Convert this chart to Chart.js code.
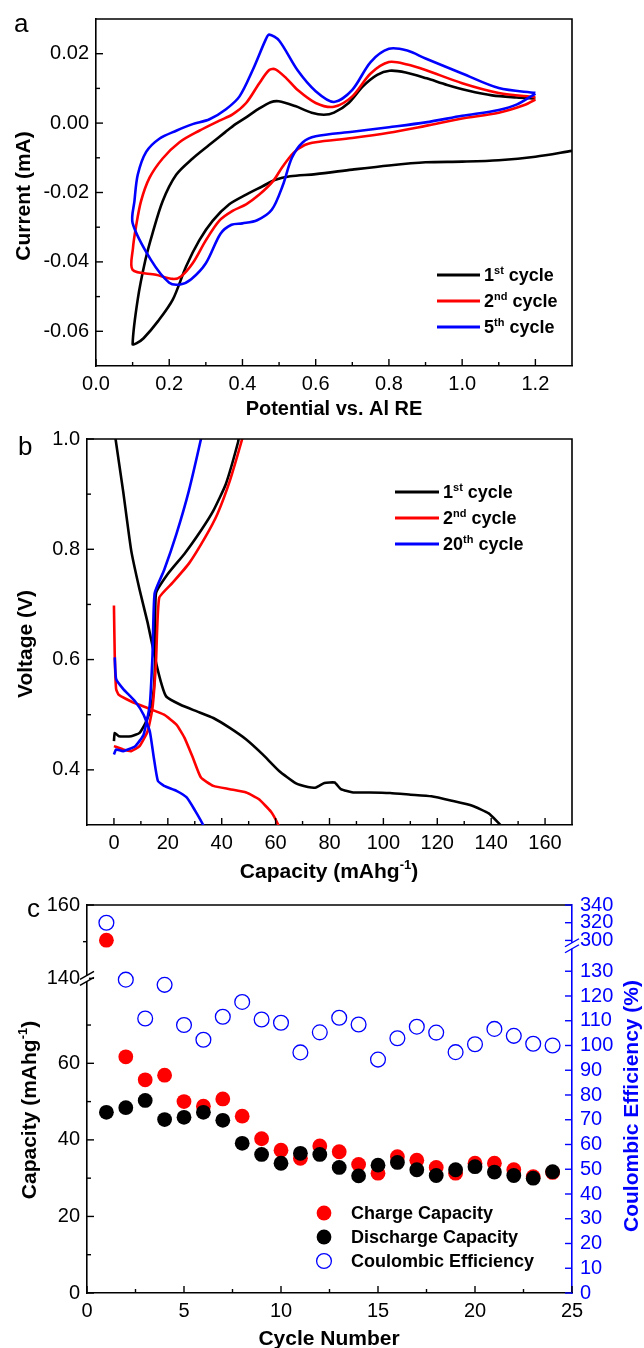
<!DOCTYPE html>
<html>
<head>
<meta charset="utf-8">
<script src="https://cdn.jsdelivr.net/npm/chart.js@4.4.0/dist/chart.umd.min.js"></script>
<style>
  html, body { margin: 0; padding: 0; background: #fff; }
  #wrap { position: relative; width: 644px; height: 1348px; }
  canvas { position: absolute; left: 0; }
</style>
</head>
<body>
<div id="wrap">
  <canvas id="cv" width="644" height="420" style="top:0"></canvas>
  <canvas id="gcd" width="644" height="465" style="top:420px"></canvas>
  <canvas id="cyc" width="644" height="463" style="top:885px"></canvas>
</div>
<script>
const FONT = '"Liberation Sans", Arial, Helvetica, sans-serif';

// --- a: cyclic voltammograms, [potential (V vs Al RE), current (mA)]
const cvCycle1 = [
  [1.30,-0.0080],[1.20,-0.0097],[1.10,-0.0107],[1.00,-0.0111],[0.90,-0.0113],[0.80,-0.0122],
  [0.70,-0.0134],[0.60,-0.0147],[0.53,-0.0153],[0.49,-0.0163],[0.455,-0.0182],[0.41,-0.0206],
  [0.364,-0.0234],[0.319,-0.0281],[0.282,-0.0338],[0.246,-0.0413],[0.21,-0.0508],[0.17,-0.0570],
  [0.13,-0.0620],[0.11,-0.0635],[0.10,-0.0637],
  [0.114,-0.0508],[0.135,-0.0394],[0.154,-0.0319],[0.182,-0.0225],[0.219,-0.0149],[0.264,-0.0102],
  [0.308,-0.0064],[0.353,-0.0026],[0.381,-0.0003],[0.409,0.0016],[0.443,0.0040],[0.477,0.0060],
  [0.499,0.0063],[0.544,0.0049],[0.589,0.0030],[0.622,0.0024],[0.65,0.0030],[0.69,0.0058],
  [0.729,0.0106],[0.768,0.0139],[0.802,0.0151],[0.846,0.0146],[0.903,0.0129],[0.959,0.0110],
  [1.015,0.0094],[1.082,0.0080],[1.149,0.0074],[1.20,0.0071]
];
const cvCycle2 = [
  [1.20,0.0068],[1.17,0.0052],[1.10,0.0030],[1.00,0.0013],[0.90,-0.0008],[0.80,-0.0028],
  [0.70,-0.0043],[0.60,-0.0055],[0.57,-0.0063],[0.54,-0.0085],[0.51,-0.0125],[0.483,-0.0168],
  [0.446,-0.0206],[0.41,-0.0234],[0.373,-0.0253],[0.337,-0.0281],[0.30,-0.0338],[0.264,-0.0404],
  [0.232,-0.0442],[0.21,-0.0449],[0.164,-0.0437],[0.10,-0.0423],
  [0.101,-0.0360],[0.109,-0.0300],[0.123,-0.0225],[0.146,-0.0158],[0.182,-0.0102],[0.228,-0.0055],
  [0.282,-0.0022],[0.337,0.0007],[0.373,0.0025],[0.41,0.0058],[0.446,0.0115],[0.473,0.0153],
  [0.49,0.0155],[0.52,0.0129],[0.55,0.0096],[0.60,0.0058],[0.65,0.0047],[0.70,0.0077],
  [0.75,0.0143],[0.80,0.0176],[0.85,0.0169],[0.90,0.0153],[1.00,0.0115],[1.10,0.0087],[1.20,0.0075]
];
const cvCycle5 = [
  [1.20,0.0085],[1.15,0.0054],[1.10,0.0038],[1.00,0.0021],[0.90,0.0002],[0.80,-0.0012],
  [0.70,-0.0025],[0.60,-0.0038],[0.565,-0.0055],[0.535,-0.0100],[0.51,-0.0180],[0.48,-0.0250],
  [0.44,-0.0280],[0.40,-0.0289],[0.37,-0.0293],[0.34,-0.0319],[0.30,-0.0404],[0.26,-0.0450],
  [0.23,-0.0465],[0.20,-0.0460],[0.15,-0.0394],[0.10,-0.0288],
  [0.105,-0.0225],[0.114,-0.0149],[0.137,-0.0083],[0.173,-0.0045],[0.219,-0.0022],[0.264,-0.0003],
  [0.31,0.0011],[0.355,0.0040],[0.392,0.0077],[0.428,0.0153],[0.464,0.0242],[0.473,0.0255],
  [0.50,0.0238],[0.55,0.0153],[0.60,0.0092],[0.65,0.0061],[0.70,0.0096],[0.75,0.0176],
  [0.80,0.0214],[0.85,0.0209],[0.90,0.0186],[1.00,0.0143],[1.10,0.0101],[1.20,0.0087]
];
const cvNames = ['1^{st} cycle', '2^{nd} cycle', '5^{th} cycle'];
const cvPotTicks = [0, 0.2, 0.4, 0.6, 0.8, 1.0, 1.2];
const cvCurTicks = [-0.06, -0.04, -0.02, 0, 0.02];

// --- b: discharge / charge curves, [capacity (mAh/g), voltage (V)]
const gcdDis1 = [
  [0.3,1.02],[0.6,1.0],[3.4,0.906],[6.4,0.798],[9.5,0.727],[12.5,0.667],[15.6,0.595],[17.8,0.553],
  [19.4,0.533],[24.7,0.518],[30.8,0.506],[36.9,0.494],[43,0.476],[49.1,0.455],[55.2,0.428],
  [61.3,0.398],[67.4,0.376],[72,0.369],[75,0.368],[78.1,0.376],[81.9,0.377],[84.2,0.365],
  [88.8,0.359],[94.9,0.359],[102.5,0.358],[110.1,0.355],[117.8,0.352],[125.4,0.344],[133,0.335],
  [139.1,0.321],[142.9,0.303],[145.5,0.29]
];
const gcdChg1 = [
  [0,0.452],[0.3,0.467],[1.8,0.461],[6.4,0.461],[9.5,0.467],[11.7,0.485],[13.7,0.512],[14.8,0.547],
  [15.3,0.607],[15.6,0.72],[20.1,0.756],[26.2,0.792],[32.3,0.834],[36.9,0.87],[41.5,0.918],
  [46.1,0.995],[46.5,1.01]
];
const gcdDis2 = [
  [0,0.698],[0.3,0.607],[0.8,0.547],[1.8,0.536],[6.4,0.524],[12.5,0.512],[18.6,0.5],[23.2,0.482],
  [26.2,0.458],[29.3,0.422],[32.3,0.386],[36.9,0.371],[43,0.365],[49.1,0.359],[53.7,0.347],
  [58.3,0.324],[61,0.3],[61.5,0.29]
];
const gcdChg2 = [
  [0,0.443],[3.4,0.437],[6.4,0.434],[9.5,0.443],[12.5,0.47],[14.3,0.512],[15.6,0.595],[16.8,0.712],
  [21.7,0.739],[27.8,0.774],[33.9,0.822],[38.4,0.864],[43,0.924],[47.6,1.0],[48,1.01]
];
const gcdDis20 = [
  [0.3,0.604],[0.8,0.565],[3.4,0.547],[7.9,0.524],[11,0.5],[13.3,0.47],[14.8,0.422],[16.3,0.38],
  [18.6,0.371],[23.2,0.362],[27,0.35],[30,0.327],[33.1,0.3],[33.6,0.29]
];
const gcdChg20 = [
  [0,0.428],[0.8,0.437],[3.4,0.434],[7.9,0.443],[11,0.464],[13.3,0.518],[14.3,0.607],[15.1,0.72],
  [18.6,0.762],[23.2,0.828],[27.8,0.906],[32.3,1.0],[32.6,1.01]
];
const gcdNames = ['1^{st} cycle', '2^{nd} cycle', '20^{th} cycle'];
const gcdCapTicks = [0, 20, 40, 60, 80, 100, 120, 140, 160];
const gcdVoltTicks = [0.4, 0.6, 0.8, 1.0];

// --- c: cycling performance
const cycleNo = [1, 2, 3, 4, 5, 6, 7, 8, 9, 10, 11, 12, 13, 14, 15, 16, 17, 18, 19, 20, 21, 22, 23, 24];
const chargeCap = [150.4, 61.7, 55.7, 56.9, 50.0, 48.8, 50.7, 46.2, 40.3, 37.3, 35.2, 38.4,
                   36.9, 33.6, 31.3, 35.6, 34.7, 32.8, 31.3, 33.9, 33.9, 32.2, 30.4, 31.5];
const dischargeCap = [47.2, 48.4, 50.3, 45.3, 45.9, 47.2, 45.1, 39.1, 36.2, 33.9, 36.5, 36.2,
                      32.8, 30.6, 33.4, 34.1, 32.2, 30.7, 32.2, 33.0, 31.6, 30.7, 30.0, 31.7];
const coulombicEff = [320, 126.6, 110.9, 124.5, 108.3, 102.3, 111.6, 117.6, 110.5, 109.2, 97.2, 105.3,
                      111.2, 108.5, 94.3, 102.9, 107.6, 105.2, 97.3, 100.5, 106.7, 103.9, 100.7, 100.0];
const cycNames = ['Charge Capacity', 'Discharge Capacity', 'Coulombic Efficiency'];
const cycleTicks = [0, 5, 10, 15, 20, 25];
const cycCapTicks = [0, 20, 40, 60, 140, 160];
const cycCeTicks = [0, 10, 20, 30, 40, 50, 60, 70, 80, 90, 100, 110, 120, 130, 300, 320, 340];

const lineColors = ['#000000', '#ff0000', '#0000ff'];

// linear scale with one axis break: [min, low] on the lower part, [high, max] above it
class BrokenScale extends Chart.LinearScale {
  brk() {
    const b = this.options.brk;
    return { low: b.low, high: b.high, split: b.split };
  }
  getPixelForValue(value) {
    if (value === null || isNaN(value)) return NaN;
    const { low, high, split } = this.brk();
    const dec = value <= low
      ? (value - this.min) / (low - this.min) * split
      : split + (value - high) / (this.max - high) * (1 - split);
    return this.getPixelForDecimal(dec);
  }
  getValueForPixel(pixel) {
    const { low, high, split } = this.brk();
    const dec = this.getDecimalForPixel(pixel);
    return dec <= split
      ? this.min + dec / split * (low - this.min)
      : high + (dec - split) / (1 - split) * (this.max - high);
  }
}
BrokenScale.id = 'broken';
BrokenScale.defaults = Chart.LinearScale.defaults;
Chart.register(BrokenScale);

const pts = arr => arr.map(([x, y]) => ({ x, y }));
const withGap = (a, b) => [...pts(a), { x: b[0][0], y: null }, ...pts(b)];

// text with ^{...} superscripts
function rich(ctx, text, x, y, size, align, color) {
  const segs = text.split(/\^\{([^}]*)\}/);
  const big = 'bold ' + size + 'px ' + FONT;
  const small = 'bold ' + Math.round(size * 0.6) + 'px ' + FONT;
  let w = 0;
  segs.forEach((s, i) => { ctx.font = i % 2 ? small : big; w += ctx.measureText(s).width; });
  let cx = align === 'center' ? x - w / 2 : x;
  ctx.fillStyle = color;
  ctx.textAlign = 'left';
  ctx.textBaseline = 'alphabetic';
  segs.forEach((s, i) => {
    ctx.font = i % 2 ? small : big;
    ctx.fillText(s, cx, i % 2 ? y - size * 0.42 : y);
    cx += ctx.measureText(s).width;
  });
}

// frame, inward ticks, breaks, titles, panel letter and legend
function makeDeco(cfg) {
  return {
    id: 'deco',
    afterDraw(chart) {
      const { ctx, chartArea: a, scales } = chart;
      ctx.save();
      ctx.strokeStyle = '#000';
      ctx.lineWidth = 1.6;
      ctx.beginPath();
      ctx.moveTo(a.left, a.top);
      ctx.lineTo(a.right, a.top);
      if (cfg.closeRight) ctx.lineTo(a.right, a.bottom);
      ctx.stroke();

      cfg.ticks.forEach(t => {
        const s = scales[t.axis];
        ctx.strokeStyle = t.color || '#000';
        ctx.lineWidth = 1.4;
        const marks = s.ticks.map(k => [k.value, 7])
          .concat((t.minor || []).map(v => [v, 4]))
          .concat((t.outer || []).map(v => [v, -4]));
        marks.forEach(([v, len]) => {
          const p = s.getPixelForValue(v);
          ctx.beginPath();
          if (s.isHorizontal()) { ctx.moveTo(p, a.bottom); ctx.lineTo(p, a.bottom - len); }
          else if (s.position === 'left') { ctx.moveTo(a.left, p); ctx.lineTo(a.left + len, p); }
          else { ctx.moveTo(a.right, p); ctx.lineTo(a.right - len, p); }
          ctx.stroke();
        });
      });

      (cfg.breaks || []).forEach(b => {
        const s = scales[b.axis];
        const p = s.getPixelForValue(b.value);
        const x = s.position === 'left' ? a.left : a.right;
        ctx.fillStyle = '#fff';
        ctx.fillRect(x - 2, p - 3, 4, 6);
        ctx.strokeStyle = b.color;
        ctx.lineWidth = 1.4;
        [-3, 3].forEach(d => {
          ctx.beginPath();
          ctx.moveTo(x - 7, p + d + 4);
          ctx.lineTo(x + 7, p + d - 4);
          ctx.stroke();
        });
      });

      cfg.titles.forEach(t => {
        const size = t.size || 21;
        ctx.save();
        ctx.translate(t.x, t.y);
        if (t.vertical) ctx.rotate(-Math.PI / 2);
        rich(ctx, t.text, 0, 0.36 * size, size, 'center', t.color || '#000');
        ctx.restore();
      });

      ctx.font = '26px ' + FONT;
      ctx.fillStyle = '#000';
      ctx.textAlign = 'left';
      ctx.textBaseline = 'alphabetic';
      ctx.fillText(cfg.letter[0], cfg.letter[1], cfg.letter[2]);

      const L = cfg.legend;
      chart.data.datasets.forEach((ds, i) => {
        const y = L.y + i * L.dy;
        if (L.kind === 'line') {
          ctx.strokeStyle = ds.borderColor;
          ctx.lineWidth = 3;
          ctx.beginPath();
          ctx.moveTo(L.x0, y);
          ctx.lineTo(L.x1, y);
          ctx.stroke();
        } else {
          ctx.beginPath();
          ctx.arc(L.x0, y, ds.pointRadius, 0, Math.PI * 2);
          if (ds.pointBorderWidth > 0) {
            ctx.strokeStyle = ds.pointBorderColor;
            ctx.lineWidth = ds.pointBorderWidth;
            ctx.stroke();
          } else {
            ctx.fillStyle = ds.pointBackgroundColor;
            ctx.fill();
          }
        }
        rich(ctx, ds.label, L.tx, y + 0.36 * 18, 18, 'left', '#000');
      });
      ctx.restore();
    }
  };
}

function axis(position, min, max, ticks, fmt, size, extra) {
  const horiz = position === 'bottom';
  return Object.assign({
    type: 'linear', position, min, max,
    grid: { display: false, drawTicks: false },
    border: { display: true, color: '#000', width: 1.6 },
    ticks: { autoSkip: false, maxRotation: 0, minRotation: 0, padding: horiz ? 6 : 7, color: '#000',
             font: { family: FONT, size: 20 }, callback: fmt },
    afterBuildTicks: s => { s.ticks = ticks.map(value => ({ value })); },
    afterFit: s => { if (horiz) s.height = size; else s.width = size; }
  }, extra || {});
}

function baseOptions(padding, scales) {
  return {
    responsive: false, animation: false, devicePixelRatio: 1, events: [],
    layout: { padding },
    scales,
    plugins: { legend: { display: false }, tooltip: { enabled: false } }
  };
}

// ---------- panel a ----------
new Chart(document.getElementById('cv'), {
  type: 'scatter',
  data: {
    datasets: [cvCycle1, cvCycle2, cvCycle5].map((d, i) => ({
      label: cvNames[i], data: pts(d), showLine: true, borderColor: lineColors[i],
      borderWidth: 2.6, pointRadius: 0, tension: 0.3, order: 3 - i
    }))
  },
  options: baseOptions({ top: 14, right: 72, left: 0, bottom: 0 }, {
    x: axis('bottom', 0, 1.3, cvPotTicks, v => v.toFixed(1), 54),
    y: axis('left', -0.07, 0.03, cvCurTicks, v => v.toFixed(2), 96)
  }),
  plugins: [makeDeco({
    closeRight: true,
    ticks: [
      { axis: 'x', minor: [0.1, 0.3, 0.5, 0.7, 0.9, 1.1] },
      { axis: 'y', minor: [-0.05, -0.03, -0.01, 0.01] }
    ],
    titles: [
      { text: 'Potential vs. Al RE', x: 334, y: 408, size: 20 },
      { text: 'Current (mA)', x: 22, y: 196, vertical: true }
    ],
    letter: ['a', 14, 32],
    legend: { kind: 'line', x0: 437, x1: 480, tx: 484, y: 275, dy: 26 }
  })]
});

// ---------- panel b ----------
const gcdSets = [[gcdDis1, gcdChg1], [gcdDis2, gcdChg2], [gcdDis20, gcdChg20]];
new Chart(document.getElementById('gcd'), {
  type: 'scatter',
  data: {
    datasets: gcdSets.map(([dis, chg], i) => ({
      label: gcdNames[i], data: withGap(dis, chg), showLine: true, spanGaps: false,
      borderColor: lineColors[i], borderWidth: 2.6, pointRadius: 0, tension: 0.15, order: 3 - i
    }))
  },
  options: baseOptions({ top: 14, right: 72, left: 0, bottom: 0 }, {
    x: axis('bottom', -10, 170, gcdCapTicks, v => String(v), 60),
    y: axis('left', 0.3, 1.0, gcdVoltTicks, v => v.toFixed(1), 87)
  }),
  plugins: [makeDeco({
    closeRight: true,
    ticks: [
      { axis: 'x', minor: [10, 30, 50, 70, 90, 110, 130, 150] },
      { axis: 'y', minor: [0.5, 0.7, 0.9] }
    ],
    titles: [
      { text: 'Capacity (mAhg^{-1})', x: 329, y: 450 },
      { text: 'Voltage (V)', x: 24, y: 224, vertical: true }
    ],
    letter: ['b', 18, 35],
    legend: { kind: 'line', x0: 395, x1: 439, tx: 443, y: 72, dy: 26 }
  })]
});

// ---------- panel c ----------
new Chart(document.getElementById('cyc'), {
  type: 'scatter',
  data: {
    datasets: [
      { label: cycNames[0], yAxisID: 'y', data: cycleNo.map((c, i) => ({ x: c, y: chargeCap[i] })),
        pointRadius: 7.4, pointBackgroundColor: '#ff0000', pointBorderColor: '#ff0000', pointBorderWidth: 0, order: 2 },
      { label: cycNames[1], yAxisID: 'y', data: cycleNo.map((c, i) => ({ x: c, y: dischargeCap[i] })),
        pointRadius: 7.4, pointBackgroundColor: '#000000', pointBorderColor: '#000000', pointBorderWidth: 0, order: 1 },
      { label: cycNames[2], yAxisID: 'y2', data: cycleNo.map((c, i) => ({ x: c, y: coulombicEff[i] })),
        pointRadius: 7.4, pointBackgroundColor: 'rgba(0,0,0,0)', pointBorderColor: '#0000ff', pointBorderWidth: 1.3, order: 3 }
    ]
  },
  options: baseOptions({ top: 16, right: 10, left: 0, bottom: 0 }, {
    x: axis('bottom', 0, 25, cycleTicks, v => String(v), 55),
    y: axis('left', 0, 160, cycCapTicks, v => String(v), 87, { type: 'broken', brk: { low: 82.2, high: 140, split: 0.811 } }),
    y2: axis('right', 0, 340, cycCeTicks, v => String(v), 62, {
      type: 'broken', brk: { low: 140.3, high: 294, split: 0.895 },
      border: { display: true, color: '#0000ff', width: 1.6 },
      ticks: { autoSkip: false, padding: 8, color: '#0000ff', font: { family: FONT, size: 20 }, callback: v => String(v) }
    })
  }),
  plugins: [makeDeco({
    closeRight: false,
    ticks: [
      { axis: 'x', minor: [2.5, 7.5, 12.5, 17.5, 22.5] },
      { axis: 'y', minor: [10, 30, 50, 70], outer: [150] },
      { axis: 'y2', color: '#0000ff' }
    ],
    breaks: [
      { axis: 'y', value: 140, color: '#000' },
      { axis: 'y2', value: 294, color: '#0000ff' }
    ],
    titles: [
      { text: 'Cycle Number', x: 329, y: 452 },
      { text: 'Capacity (mAhg^{-1})', x: 28, y: 225, vertical: true },
      { text: 'Coulombic Efficiency (%)', x: 630, y: 221, vertical: true, color: '#0000ff' }
    ],
    letter: ['c', 27, 32],
    legend: { kind: 'point', x0: 324, tx: 351, y: 328, dy: 24 }
  })]
});
</script>
</body>
</html>
